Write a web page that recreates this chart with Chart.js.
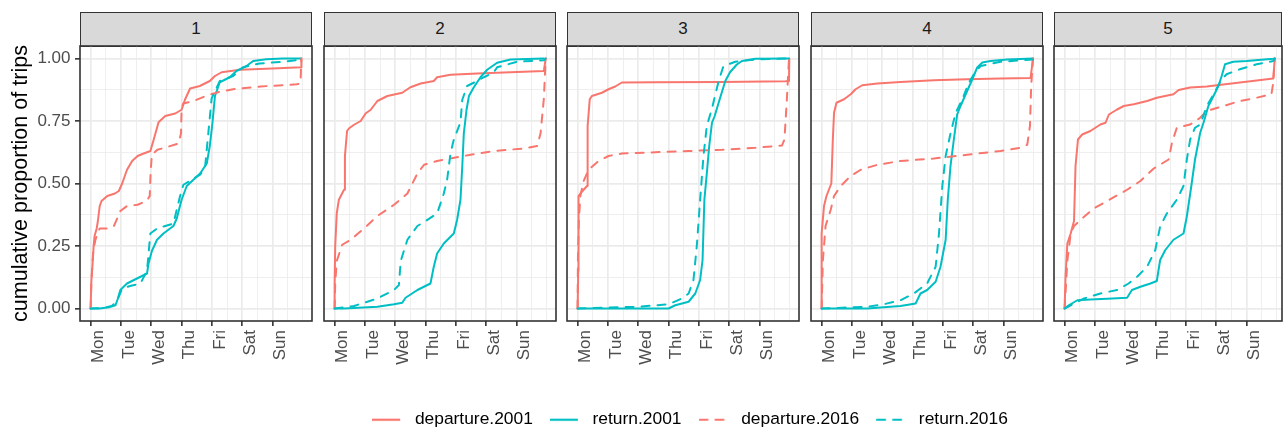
<!DOCTYPE html>
<html>
<head>
<meta charset="utf-8">
<script src="https://cdn.jsdelivr.net/npm/chart.js@4.4.1/dist/chart.umd.min.js"></script>
<style>
  html, body { margin: 0; padding: 0; background: #ffffff; }
  body { width: 1285px; height: 429px; overflow: hidden; position: relative; font-family: 'Liberation Sans', Arial, sans-serif; }
  canvas { position: absolute; display: block; }
  .strip { position: absolute; box-sizing: border-box; top: 12px; height: 35px; background: #D9D9D9; border: 1.5px solid #333333;
           color: #1A1A1A; font-size: 17px; text-align: center; line-height: 31px; }
</style>
</head>
<body>
<script>
// ---------------- data ----------------
const days = ['Mon', 'Tue', 'Wed', 'Thu', 'Fri', 'Sat', 'Sun'];
const dayBreaks = [0, 1, 2, 3, 4, 5, 6];
const yBreaks = [0, 0.25, 0.5, 0.75, 1];
const yLabels = ['0.00', '0.25', '0.50', '0.75', '1.00'];
const panelLabels = ['1', '2', '3', '4', '5'];
const seriesNames = ['departure.2001', 'return.2001', 'departure.2016', 'return.2016'];
const yTitle = 'cumulative proportion of trips';

// x = days since Monday 00:00, y = cumulative proportion
const dep2001_p1 = [[0,0],[0.02,0.1],[0.06,0.17],[0.1,0.25],[0.13,0.29],[0.2,0.32],[0.24,0.35],[0.3,0.41],[0.36,0.43],[0.55,0.45],[0.8,0.46],[0.93,0.47],[1.04,0.5],[1.2,0.555],[1.37,0.59],[1.55,0.61],[1.75,0.62],[1.97,0.63],[2.08,0.675],[2.24,0.745],[2.46,0.77],[2.79,0.78],[3.0,0.795],[3.11,0.835],[3.28,0.88],[3.6,0.89],[3.93,0.91],[4.1,0.93],[4.32,0.945],[4.92,0.955],[6.0,0.96],[6.94,0.965],[6.95,1.0]];
const ret2001_p1 = [[0,0],[0.3,0],[0.6,0.005],[0.82,0.013],[0.9,0.04],[0.98,0.074],[1.2,0.1],[1.53,0.12],[1.86,0.14],[1.91,0.18],[2.02,0.23],[2.19,0.275],[2.4,0.3],[2.73,0.33],[2.84,0.36],[3.0,0.435],[3.17,0.49],[3.39,0.515],[3.61,0.54],[3.83,0.58],[3.93,0.65],[4.02,0.745],[4.1,0.85],[4.26,0.905],[4.59,0.925],[4.81,0.95],[5.14,0.97],[5.36,0.99],[5.79,0.997],[6.34,1.0],[6.94,1.0]];
const dep2016_p1 = [[0,0],[0.03,0.12],[0.08,0.22],[0.15,0.27],[0.22,0.3],[0.3,0.32],[0.6,0.32],[0.77,0.33],[0.98,0.39],[1.2,0.41],[1.55,0.415],[1.85,0.43],[1.95,0.45],[1.98,0.55],[2.02,0.615],[2.2,0.635],[2.5,0.645],[2.9,0.66],[2.98,0.7],[3.0,0.8],[3.05,0.82],[3.4,0.83],[3.8,0.85],[4.2,0.865],[4.7,0.877],[5.6,0.888],[6.8,0.897],[6.92,0.9],[6.95,1.0]];
const ret2016_p1 = [[0,0],[0.4,0.002],[0.7,0.01],[0.87,0.03],[1.04,0.08],[1.3,0.09],[1.64,0.1],[1.86,0.15],[1.91,0.22],[1.97,0.3],[2.19,0.32],[2.73,0.34],[2.95,0.45],[3.06,0.495],[3.61,0.535],[3.77,0.56],[3.88,0.7],[3.99,0.84],[4.26,0.91],[4.7,0.93],[5.03,0.965],[5.57,0.98],[6.34,0.987],[6.94,0.996],[6.95,1.0]];

const dep2001_p2 = [[0,0],[0.0,0.1],[0.02,0.25],[0.07,0.38],[0.14,0.435],[0.31,0.475],[0.34,0.61],[0.41,0.71],[0.47,0.72],[0.64,0.735],[0.86,0.75],[1.02,0.78],[1.19,0.795],[1.41,0.83],[1.74,0.85],[2.23,0.863],[2.5,0.885],[2.84,0.9],[3.27,0.91],[3.38,0.925],[3.82,0.935],[4.7,0.94],[5.8,0.945],[6.9,0.95],[6.96,1.0]];
const ret2001_p2 = [[0,0],[0.31,0],[1.41,0.007],[1.96,0.017],[2.23,0.023],[2.34,0.043],[2.73,0.074],[3.16,0.1],[3.27,0.167],[3.38,0.22],[3.6,0.26],[3.93,0.3],[4.04,0.355],[4.15,0.435],[4.21,0.57],[4.26,0.7],[4.35,0.795],[4.43,0.85],[4.59,0.885],[4.81,0.925],[5.03,0.955],[5.36,0.983],[5.8,0.996],[6.9,1.0]];
const dep2016_p2 = [[0,0],[0.02,0.1],[0.07,0.19],[0.25,0.255],[0.53,0.275],[0.97,0.32],[1.41,0.37],[1.96,0.415],[2.4,0.46],[2.73,0.54],[2.95,0.575],[3.38,0.59],[3.82,0.6],[4.48,0.615],[5.25,0.63],[6.24,0.64],[6.68,0.65],[6.79,0.7],[6.9,0.84],[6.96,1.0]];
const ret2016_p2 = [[0,0],[0.64,0.01],[1.41,0.04],[1.96,0.074],[2.12,0.094],[2.18,0.19],[2.4,0.275],[2.73,0.33],[3.0,0.35],[3.38,0.38],[3.6,0.46],[3.71,0.515],[3.82,0.62],[3.93,0.675],[4.15,0.745],[4.21,0.835],[4.37,0.89],[4.7,0.91],[4.92,0.925],[5.25,0.945],[5.36,0.965],[6.02,0.987],[6.9,0.993],[6.96,1.0]];

const dep2001_p3 = [[0,0],[0.02,0.15],[0.03,0.45],[0.09,0.46],[0.31,0.49],[0.33,0.73],[0.4,0.837],[0.47,0.85],[0.8,0.863],[1.02,0.877],[1.24,0.888],[1.46,0.904],[2.56,0.905],[4.76,0.906],[6.85,0.909],[6.97,0.91],[6.98,1.0]];
const ret2001_p3 = [[0,0],[3.0,0],[3.22,0.013],[3.66,0.027],[3.88,0.06],[4.04,0.114],[4.12,0.194],[4.18,0.435],[4.26,0.54],[4.34,0.65],[4.43,0.743],[4.52,0.77],[4.65,0.823],[4.87,0.91],[5.03,0.946],[5.25,0.976],[5.42,0.99],[5.86,0.999],[6.96,1.0]];
const dep2016_p3 = [[0,0],[0.01,0.2],[0.04,0.35],[0.09,0.45],[0.2,0.51],[0.36,0.555],[0.69,0.59],[1.02,0.61],[1.46,0.62],[2.56,0.625],[3.66,0.63],[4.76,0.635],[5.86,0.643],[6.74,0.652],[6.82,0.676],[6.9,0.837],[6.97,1.0]];
const ret2016_p3 = [[0,0],[2.01,0.007],[3.0,0.017],[3.44,0.04],[3.66,0.06],[3.82,0.114],[3.93,0.25],[4.04,0.435],[4.15,0.61],[4.26,0.73],[4.43,0.8],[4.65,0.91],[4.81,0.97],[5.2,0.987],[5.86,0.996],[6.96,1.0]];

const dep2001_p4 = [[0,0],[0.0,0.3],[0.08,0.41],[0.16,0.45],[0.32,0.5],[0.37,0.676],[0.41,0.783],[0.49,0.823],[0.74,0.837],[0.96,0.857],[1.12,0.877],[1.34,0.893],[1.84,0.9],[2.6,0.906],[3.7,0.913],[4.8,0.917],[5.9,0.92],[6.89,0.922],[6.97,1.0]];
const ret2001_p4 = [[0,0],[1.5,0],[2.6,0.01],[3.1,0.02],[3.26,0.06],[3.48,0.074],[3.76,0.107],[3.92,0.167],[4.09,0.275],[4.16,0.435],[4.25,0.57],[4.36,0.676],[4.47,0.776],[4.58,0.81],[4.8,0.87],[4.97,0.917],[5.13,0.964],[5.3,0.984],[5.57,0.99],[6.12,0.996],[6.97,1.0]];
const dep2016_p4 = [[0,0],[0.04,0.19],[0.13,0.33],[0.3,0.395],[0.41,0.45],[0.63,0.49],[0.96,0.53],[1.29,0.555],[1.84,0.575],[2.6,0.59],[3.7,0.6],[4.8,0.615],[5.9,0.63],[6.56,0.643],[6.78,0.655],[6.87,0.73],[6.91,0.89],[6.97,1.0]];
const ret2016_p4 = [[0,0],[1.5,0.007],[2.05,0.017],[2.6,0.033],[3.04,0.06],[3.48,0.1],[3.76,0.167],[3.87,0.3],[3.98,0.49],[4.09,0.61],[4.25,0.7],[4.42,0.783],[4.64,0.837],[4.86,0.904],[5.02,0.937],[5.24,0.97],[5.9,0.987],[6.97,0.996]];

const dep2001_p5 = [[0,0],[0.03,0.127],[0.09,0.26],[0.2,0.3],[0.31,0.35],[0.36,0.57],[0.44,0.676],[0.58,0.696],[0.85,0.71],[1.18,0.736],[1.35,0.743],[1.46,0.776],[1.73,0.796],[1.95,0.81],[2.28,0.817],[2.72,0.83],[3.04,0.843],[3.59,0.857],[3.76,0.874],[4.14,0.884],[4.69,0.888],[5.02,0.893],[5.78,0.904],[6.88,0.92],[6.93,1.0]];
const ret2001_p5 = [[0,0],[0.14,0.013],[0.42,0.033],[0.85,0.036],[1.4,0.039],[2.06,0.043],[2.22,0.074],[2.5,0.087],[2.83,0.1],[3.04,0.11],[3.15,0.194],[3.32,0.234],[3.59,0.275],[3.92,0.3],[4.03,0.368],[4.19,0.5],[4.3,0.596],[4.47,0.703],[4.58,0.743],[4.74,0.81],[4.91,0.85],[5.07,0.89],[5.18,0.93],[5.29,0.977],[5.56,0.987],[6.0,0.99],[6.88,0.999],[6.93,1.0]];
const dep2016_p5 = [[0,0],[0.09,0.19],[0.2,0.3],[0.31,0.33],[0.53,0.355],[0.96,0.4],[1.4,0.43],[2.06,0.475],[2.5,0.51],[2.94,0.56],[3.43,0.596],[3.54,0.663],[3.7,0.723],[4.14,0.736],[4.47,0.763],[4.69,0.79],[5.24,0.81],[5.78,0.83],[6.33,0.843],[6.82,0.857],[6.88,0.904],[6.93,1.0]];
const ret2016_p5 = [[0,0],[0.2,0.013],[0.64,0.04],[1.18,0.06],[1.73,0.074],[2.11,0.1],[2.39,0.127],[2.72,0.167],[2.99,0.234],[3.15,0.328],[3.37,0.38],[3.7,0.435],[3.92,0.49],[4.03,0.596],[4.14,0.676],[4.3,0.723],[4.47,0.736],[4.69,0.81],[4.91,0.857],[5.18,0.917],[5.34,0.937],[5.78,0.957],[6.33,0.977],[6.88,0.99],[6.93,1.0]];

const panelSeries = [
  [dep2001_p1, ret2001_p1, dep2016_p1, ret2016_p1],
  [dep2001_p2, ret2001_p2, dep2016_p2, ret2016_p2],
  [dep2001_p3, ret2001_p3, dep2016_p3, ret2016_p3],
  [dep2001_p4, ret2001_p4, dep2016_p4, ret2016_p4],
  [dep2001_p5, ret2001_p5, dep2016_p5, ret2016_p5]
];

// ---------------- styling / layout ----------------
const RED = '#F8766D', CYAN = '#00BFC4';
const seriesColor = [RED, CYAN, RED, CYAN];
const seriesDash = [[], [], [8, 8], [8, 8]];
const GRID = '#EBEBEB';
const DARK = '#333333';
const XMIN = -0.35, XMAX = 7.3, YMIN = -0.05, YMAX = 1.05;
const PANEL_LEFT = [80, 324, 567, 811, 1054];
const PANEL_WIDTH = [232, 232, 232, 232, 228];   // last panel is cut off at the right edge of the figure
const FULL_W = 232, PANEL_TOP = 46, PANEL_H = 275, XAXIS_H = 60, YAXIS_W = 80, PAD = 4;

Chart.defaults.font.family = "'Liberation Sans', Arial, Helvetica, sans-serif";

const xMinor = []; for (let i = 0; i <= 14; i++) xMinor.push(i / 2);
const yMinor = []; for (let i = 0; i <= 8; i++) yMinor.push(i / 8);
const isMajorX = v => dayBreaks.includes(v);
const isMajorY = v => yBreaks.includes(v);

const panelBorder = {
  id: 'panelBorder',
  afterDatasetsDraw(chart) {
    const {ctx, chartArea: a} = chart;
    ctx.save();
    ctx.strokeStyle = DARK;
    ctx.lineWidth = 1.6;
    ctx.strokeRect(a.left, a.top, a.right - a.left, a.bottom - a.top);
    ctx.restore();
  }
};

function zeroPad(s) { s.paddingLeft = 0; s.paddingRight = 0; s.paddingTop = 0; s.paddingBottom = 0; }

function makePanel(idx) {
  const first = idx === 0;
  const L = PANEL_LEFT[idx];
  const PW = PANEL_WIDTH[idx];
  const xmax = XMIN + (XMAX - XMIN) * PW / FULL_W;

  const strip = document.createElement('div');
  strip.className = 'strip';
  strip.style.left = L + 'px';
  strip.style.width = PW + 'px';
  strip.textContent = panelLabels[idx];
  document.body.appendChild(strip);

  const cv = document.createElement('canvas');
  const left = first ? 0 : L - PAD;
  const w = (first ? YAXIS_W : PAD) + PW + PAD;
  const h = PAD + PANEL_H + XAXIS_H;
  cv.width = w; cv.height = h;
  cv.style.left = left + 'px';
  cv.style.top = (PANEL_TOP - PAD) + 'px';
  cv.style.width = w + 'px'; cv.style.height = h + 'px';
  document.body.appendChild(cv);

  const datasets = seriesNames.map((name, k) => ({
    label: name,
    data: panelSeries[idx][k].map(p => ({x: p[0], y: p[1]})),
    borderColor: seriesColor[k],
    borderDash: seriesDash[k],
    borderCapStyle: 'round',
    borderJoinStyle: 'round',
    borderWidth: 2,
    pointRadius: 0,
    fill: false,
    tension: 0,
    order: 3 - k
  }));

  new Chart(cv, {
    type: 'line',
    data: {datasets},
    options: {
      responsive: false,
      animation: false,
      events: [],
      layout: {padding: {left: first ? 0 : PAD, right: PAD, top: PAD, bottom: 0}},
      plugins: {legend: {display: false}, tooltip: {enabled: false}},
      scales: {
        x: {
          type: 'linear', min: XMIN, max: xmax, bounds: 'data',
          afterBuildTicks: s => { s.ticks = xMinor.filter(v => v <= xmax).map(v => ({value: v})); },
          afterFit: s => { s.height = XAXIS_H; zeroPad(s); },
          border: {display: false},
          grid: {
            color: GRID,
            lineWidth: c => (c.tick && isMajorX(c.tick.value)) ? 1.7 : 0.8,
            tickLength: 5,
            tickColor: c => (c.tick && isMajorX(c.tick.value)) ? DARK : 'rgba(0,0,0,0)',
            tickWidth: 1.6
          },
          ticks: {
            autoSkip: false, minRotation: 90, maxRotation: 90, padding: 4, labelOffset: 8,
            color: '#4D4D4D', font: {size: 17},
            callback: v => { const i = dayBreaks.indexOf(v); return i >= 0 ? days[i] : ''; }
          }
        },
        y: {
          type: 'linear', min: YMIN, max: YMAX, bounds: 'data',
          afterBuildTicks: s => { s.ticks = yMinor.map(v => ({value: v})); },
          afterFit: s => { s.width = first ? YAXIS_W : 0; zeroPad(s); },
          border: {display: false},
          grid: {
            color: GRID,
            lineWidth: c => (c.tick && isMajorY(c.tick.value)) ? 1.7 : 0.8,
            drawTicks: first,
            tickLength: 5,
            tickColor: c => (c.tick && isMajorY(c.tick.value)) ? DARK : 'rgba(0,0,0,0)',
            tickWidth: 1.6
          },
          ticks: {
            display: first, autoSkip: false, padding: 4.5,
            color: '#4D4D4D', font: {size: 17},
            callback: v => { const i = yBreaks.indexOf(v); return i >= 0 ? yLabels[i] : ''; }
          },
          title: {
            display: first, text: yTitle, color: '#000000',
            font: {size: 21.6}, padding: {top: 8, bottom: 0}
          }
        }
      }
    },
    plugins: [panelBorder]
  });
}

for (let i = 0; i < 5; i++) makePanel(i);

// ---------------- legend ----------------
// legend key: 28px line followed by 6px of empty space, used as a Chart.js point style image
const KEY_LINE = 28, KEY_W = 34, KEY_H = 6;
function keyImage(color, dash) {
  const c = document.createElement('canvas');
  c.width = KEY_W; c.height = KEY_H;
  const g = c.getContext('2d');
  g.strokeStyle = color; g.lineWidth = 2.2; g.lineCap = dash.length ? 'round' : 'butt'; g.setLineDash(dash);
  g.beginPath(); g.moveTo(dash.length ? 1 : 0, KEY_H / 2); g.lineTo(KEY_LINE, KEY_H / 2); g.stroke();
  return c;
}

(function () {
  const cv = document.createElement('canvas');
  const w = 1000, h = 70, center = 690;
  cv.width = w; cv.height = h;
  cv.style.left = (center - w / 2) + 'px';
  cv.style.top = '394px';
  cv.style.width = w + 'px'; cv.style.height = h + 'px';
  document.body.appendChild(cv);
  new Chart(cv, {
    type: 'line',
    data: {datasets: seriesNames.map((name, k) => ({
      label: name, data: [], borderColor: seriesColor[k], borderDash: seriesDash[k], borderWidth: 2.2, pointRadius: 0
    }))},
    options: {
      responsive: false, animation: false, events: [],
      layout: {padding: 0},
      scales: {x: {display: false, type: 'linear'}, y: {display: false}},
      plugins: {
        tooltip: {enabled: false},
        legend: {
          display: true, position: 'top', align: 'center',
          labels: {
            usePointStyle: true, pointStyleWidth: KEY_W, padding: 17,
            color: '#000000', font: {size: 17.4},
            generateLabels: chart => chart.data.datasets.map((ds, i) => ({
              text: ds.label, fillStyle: 'rgba(0,0,0,0)', strokeStyle: ds.borderColor,
              lineWidth: 0, pointStyle: keyImage(ds.borderColor, ds.borderDash),
              hidden: false, datasetIndex: i, fontColor: '#000000'
            }))
          }
        }
      }
    }
  });
})();
</script>
</body>
</html>
